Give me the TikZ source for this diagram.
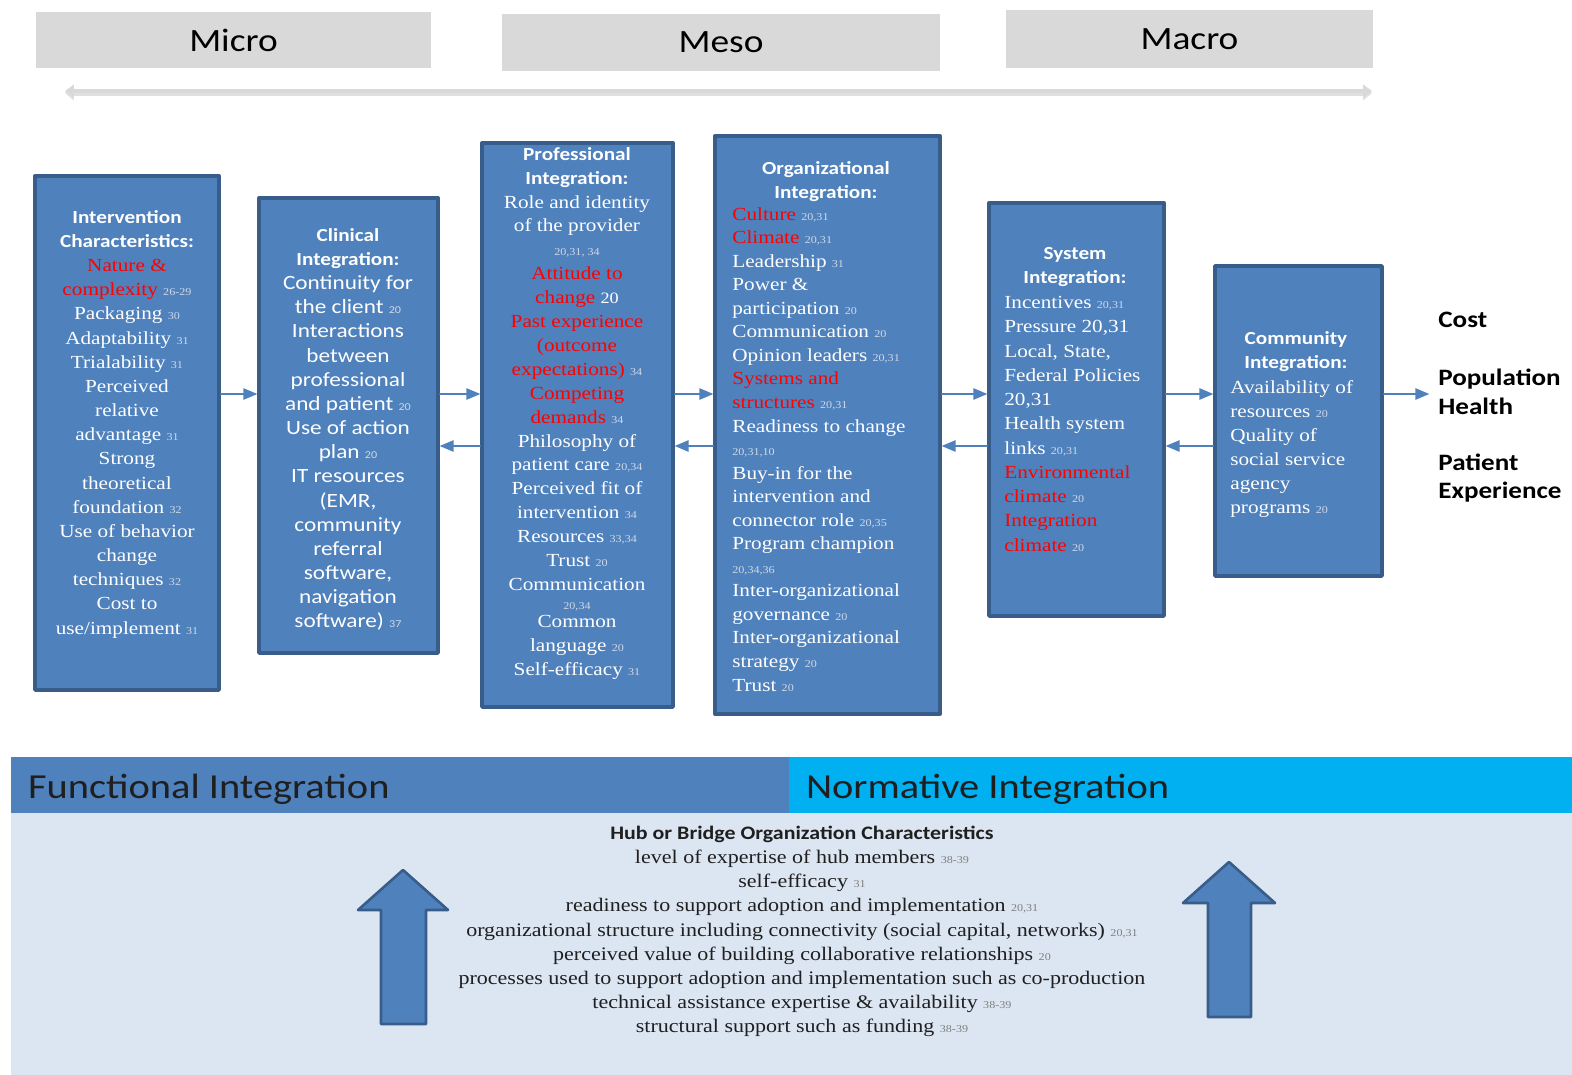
\documentclass[tikz,border=0pt]{standalone}
\usepackage{fontspec}
\setmainfont[FakeStretch=1.15]{Liberation Serif}
\newfontfamily\calfont[FakeStretch=1.15]{Carlito}
\usetikzlibrary{arrows}
\usetikzlibrary{arrows.meta}
\usetikzlibrary{positioning}

\definecolor{blkfill}{HTML}{4F81BD}
\definecolor{blkline}{HTML}{385D8A}
\definecolor{lvlgray}{HTML}{D9D9D9}
\definecolor{normcyan}{HTML}{00B0F0}
\definecolor{hubband}{HTML}{DCE6F2}
\definecolor{redtxt}{HTML}{FF0000}
\definecolor{refc}{HTML}{D0D8E6}
\definecolor{darktxt}{HTML}{1F1F1F}

\newcommand\rf[1]{{\fontsize{6}{6}\selectfont\color{refc}#1}}
\newcommand\rfg[1]{{\fontsize{6}{6}\selectfont\color{gray}#1}}
\newcommand\rd[1]{\textcolor{redtxt}{#1}}
\newcommand\hd{\calfont\bfseries\fontsize{10.5}{13}\selectfont}

\tikzset{
  blk/.style={draw=blkline, line width=2pt, fill=blkfill, inner sep=0pt},
  boxtxt/.style={text=white, align=center, inner sep=0pt, font=\fontsize{10.5}{13.7}\selectfont},
  boxbody/.style={boxtxt, align=left, anchor=north west},
  lvl/.style={fill=lvlgray, inner sep=0pt, font=\calfont\fontsize{18.5}{20}\selectfont},
  band/.style={inner sep=0pt, minimum height=1.12cm},
  bandtxt/.style={anchor=west, inner sep=0pt, text=darktxt, font=\calfont\fontsize{20}{22}\selectfont},
  outtxt/.style={anchor=west, align=left, inner sep=0pt, font=\calfont\bfseries\fontsize{13.4}{16.4}\selectfont},
  conn/.style={->, draw=blkfill, line width=0.8pt},
  bigarrow/.style={fill=blkfill, draw=blkline, line width=1.5pt},
}

\begin{document}
\begin{tikzpicture}[line cap=round,line join=round,>=triangle 45,x=0.02cm,y=-0.02cm]
\useasboundingbox (0,0) rectangle (1572,1075);

% micro / meso / macro
\node[lvl, minimum width=7.90cm, minimum height=1.12cm] (micro) at (233.5,40) {Micro};
\node[lvl, minimum width=8.76cm, minimum height=1.14cm] (meso) at (721,42.5) {Meso};
\node[lvl, minimum width=7.34cm, minimum height=1.16cm] (macro) at (1189.5,39) {Macro};
\coordinate (scaleL) at (65,91);
\coordinate (scaleR) at (1372,91);
\draw[black!12, line width=3pt, {Triangle[width=8pt,length=5pt]}-{Triangle[width=8pt,length=5pt]}] ([yshift=-1.2pt]scaleL) -- ([yshift=-1.2pt]scaleR);
\draw[lvlgray, line width=2.4pt, {Triangle[width=7pt,length=5pt]}-{Triangle[width=7pt,length=5pt]}] (scaleL) -- (scaleR);

% the six integration boxes
\node[blk, minimum width=3.68cm, minimum height=10.28cm] (intv) at (127,433) {};
\node[blk, minimum width=3.58cm, minimum height=9.10cm] (clin) at (348.5,425.5) {};
\node[blk, minimum width=3.82cm, minimum height=11.28cm] (prof) at (577.5,425) {};
\node[blk, minimum width=4.50cm, minimum height=11.56cm] (orga) at (827.5,425) {};
\node[blk, minimum width=3.50cm, minimum height=8.26cm] (syst) at (1076.5,409.5) {};
\node[blk, minimum width=3.34cm, minimum height=6.20cm] (comm) at (1298.5,421) {};

\node[boxtxt, anchor=north, font=\fontsize{10.5}{13.75}\selectfont] (intvT) at (127,210) {{\hd Intervention}\\{\hd Characteristics:}\\\rd{Nature \&}\\\rd{complexity}\ \rf{26-29}\\Packaging \rf{30}\\Adaptability \rf{31}\\Trialability \rf{31}\\Perceived\\relative\\advantage \rf{31}\\Strong\\theoretical\\foundation \rf{32}\\Use of behavior\\change\\techniques \rf{32}\\Cost to\\use/implement \rf{31}};

\node[boxtxt, anchor=north, font=\calfont\fontsize{11.5}{13.75}\selectfont] (clinT) at (348,228) {{\hd Clinical}\\{\hd Integration:}\\Continuity for\\the client \rf{20}\\Interactions\\between\\professional\\and patient \rf{20}\\Use of action\\plan \rf{20}\\IT resources\\(EMR,\\community\\referral\\software,\\navigation\\software) \rf{37}};

\node[boxtxt, anchor=north, font=\fontsize{10.5}{13.6}\selectfont] (profT) at (577,147) {{\hd Professional}\\{\hd Integration:}\\Role and identity\\of the provider\\\rf{20,31, 34}\\\rd{Attitude to}\\\rd{change} {\fontsize{9}{9}\selectfont 20}\\\rd{Past experience}\\\rd{(outcome}\\\rd{expectations)} \rf{34}\\\rd{Competing}\\\rd{demands} \rf{34}\\Philosophy of\\patient care \rf{20,34}\\Perceived fit of\\intervention \rf{34}\\Resources \rf{33,34}\\Trust \rf{20}\\Communication\\[-3pt]\rf{20,34}\\[-3pt]Common\\language \rf{20}\\Self-efficacy \rf{31}};

\node[boxtxt, anchor=north] (orgaH) at (826,161) {{\hd Organizational}\\{\hd Integration:}};
\node[boxbody, font=\fontsize{10.5}{13.4}\selectfont] (orgaT) at (732,207) {\rd{Culture} \rf{20,31}\\\rd{Climate} \rf{20,31}\\Leadership \rf{31}\\Power \&\\participation \rf{20}\\Communication \rf{20}\\Opinion leaders \rf{20,31}\\\rd{Systems and}\\\rd{structures} \rf{20,31}\\Readiness to change\\\rf{20,31,10}\\Buy-in for the\\intervention and\\connector role \rf{20,35}\\Program champion\\\rf{20,34,36}\\Inter-organizational\\governance \rf{20}\\Inter-organizational\\strategy \rf{20}\\Trust \rf{20}};

\node[boxtxt, anchor=north] (systH) at (1075,247) {{\hd System}\\{\hd Integration:}};
\node[boxbody, font=\fontsize{10.5}{13.8}\selectfont] (systT) at (1004,296) {Incentives \rf{20,31}\\Pressure 20,31\\Local, State,\\Federal Policies\\20,31\\Health system\\links \rf{20,31}\\\rd{Environmental}\\\rd{climate} \rf{20}\\\rd{Integration}\\\rd{climate} \rf{20}};

\node[boxtxt, anchor=north] (commH) at (1296,331) {{\hd Community}\\{\hd Integration:}};
\node[boxbody] (commT) at (1230,380) {Availability of\\resources \rf{20}\\Quality of\\social service\\agency\\programs \rf{20}};

% outcomes
\node[outtxt] (cost) at (1438,320) {Cost};
\node[outtxt] (poph) at (1438,391.5) {Population\\Health};
\node[outtxt] (patx) at (1438,478) {Patient\\Experience};

% connectors
\coordinate (fwd) at (0,394);
\coordinate (bwd) at (0,446);
\draw[conn] (intv.east |- fwd) -- (clin.west |- fwd);
\draw[conn] (clin.east |- fwd) -- (prof.west |- fwd);
\draw[conn] (prof.east |- fwd) -- (orga.west |- fwd);
\draw[conn] (orga.east |- fwd) -- (syst.west |- fwd);
\draw[conn] (syst.east |- fwd) -- (comm.west |- fwd);
\draw[conn, shorten >=5pt] (comm.east |- fwd) -- (poph.west |- fwd);
\draw[conn] (prof.west |- bwd) -- (clin.east |- bwd);
\draw[conn] (orga.west |- bwd) -- (prof.east |- bwd);
\draw[conn] (syst.west |- bwd) -- (orga.east |- bwd);
\draw[conn] (comm.west |- bwd) -- (syst.east |- bwd);

% functional / normative bands
\node[band, fill=blkfill, minimum width=15.56cm] (func) at (400,785) {};
\node[band, fill=normcyan, minimum width=15.66cm] (norm) at (1180.5,785) {};
\node[bandtxt] (funcT) at ([xshift=0.34cm, yshift=-2.5pt]func.west) {Functional Integration};
\node[bandtxt] (normT) at ([xshift=0.34cm, yshift=-2.5pt]norm.west) {Normative Integration};
\node[fill=hubband, inner sep=0pt, minimum width=31.22cm, minimum height=5.24cm] (hub) at (791.5,944) {};

\node[anchor=north, align=center, inner sep=0pt, text=darktxt, font=\fontsize{10.9}{13.7}\selectfont] (hubT) at (802,826) {{\calfont\bfseries\fontsize{10.85}{12}\selectfont Hub or Bridge Organization Characteristics}\\level of expertise of hub members \rfg{38-39}\\self-efficacy \rfg{31}\\readiness to support adoption and implementation \rfg{20,31}\\organizational structure including connectivity (social capital, networks) \rfg{20,31}\\perceived value of building collaborative relationships \rfg{20}\\processes used to support adoption and implementation such as co-production\\technical assistance expertise \& availability \rfg{38-39}\\structural support such as funding \rfg{38-39}};

% up arrows
\draw[bigarrow] (403,870) -- (448,910) -- (426,910) -- (426,1024) -- (381,1024) -- (381,910) -- (358,910) -- cycle;
\draw[bigarrow] (1229,862) -- (1275,903) -- (1251,903) -- (1251,1017) -- (1208,1017) -- (1208,903) -- (1183,903) -- cycle;
\end{tikzpicture}
\end{document}
